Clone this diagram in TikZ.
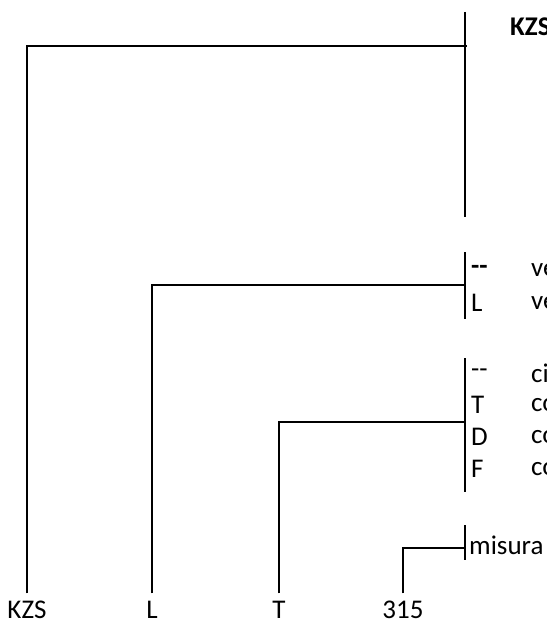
\documentclass[tikz,border=0pt]{standalone}
\usepackage{fontspec}
\setmainfont{Carlito}
\usepackage{tikz}

\begin{document}
\begin{tikzpicture}
      [x=1pt, y=-1pt,
        bar/.style={line width=1.9pt},
        lab/.style={font=\fontsize{27}{32}\selectfont, inner xsep=0pt, inner ysep=7pt, anchor=base},
        tag/.style={font=\fontsize{27}{32}\selectfont, inner sep=0pt, anchor=west}]
      \useasboundingbox (0,0) rectangle (546,623);
      \clip (0,0) rectangle (546,623);
      \node[lab] (kzs) at (27,618) {KZS};
      \node[lab] (l) at (152,618) {L};
      \node[lab] (t) at (279,618) {T};
      \node[lab] (num) at (403,618) {315};
      \coordinate (a1) at (465,12);
      \coordinate (a2) at (465,217);
      \coordinate (b1) at (465,252);
      \coordinate (b2) at (465,319);
      \coordinate (c1) at (465,358);
      \coordinate (c2) at (465,492);
      \coordinate (d1) at (465,525);
      \coordinate (d2) at (465,560);
      \coordinate (ja) at (467,46);
      \coordinate (jb) at (465,285);
      \coordinate (jc) at (465,422);
      \coordinate (jd) at (465,548);
      \draw[bar] (a1) -- (a2);
      \draw[bar] (b1) -- (b2);
      \draw[bar] (c1) -- (c2);
      \draw[bar] (d1) -- (d2);
      \draw[bar] (kzs) |- (ja);
      \draw[bar] (l) |- (jb);
      \draw[bar] (t) |- (jc);
      \draw[bar] (num) |- (jd);
      \node[tag, font=\fontsize{27}{32}\selectfont\bfseries] (title) at (510,27) {KZS};
      \node[tag, font=\fontsize{27}{32}\selectfont\bfseries] (b0) at (471,270) {-{}-};
      \node[tag] (bl) at (471,303) {L};
      \node[tag] (bv0) at (531,270) {ve};
      \node[tag] (bv1) at (531,303) {ve};
      \node[tag] (c0) at (471,373) {-{}-};
      \node[tag] (ct) at (471,405) {T};
      \node[tag] (cd) at (471,437) {D};
      \node[tag] (cf) at (471,469) {F};
      \node[tag] (cv0) at (531,373) {ci};
      \node[tag] (cv1) at (531,405) {co};
      \node[tag] (cv2) at (531,437) {co};
      \node[tag] (cv3) at (531,469) {co};
      \node[tag] (mis) at (469,545) {misura};
    \end{tikzpicture}
\end{document}
